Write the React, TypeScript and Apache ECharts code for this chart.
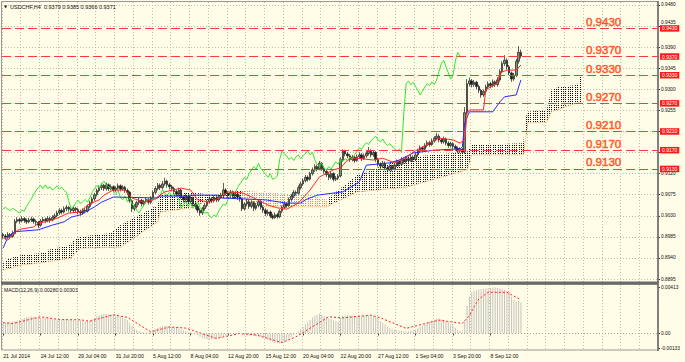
import React, { useEffect, useRef } from "react";
import * as echarts from "echarts";

const SYMBOL_TITLE = "USDCHF,H4  0.9379 0.9385 0.9366 0.9371";
const MACD_TITLE = "MACD(12,26,9) 0.00280 0.00303";
const X_TICK_LABELS = [
  "21 Jul 2014", "24 Jul 12:00", "29 Jul 04:00", "31 Jul 20:00", "5 Aug 12:00",
  "8 Aug 04:00", "12 Aug 20:00", "15 Aug 12:00", "20 Aug 04:00", "22 Aug 20:00",
  "27 Aug 12:00", "1 Sep 04:00", "3 Sep 20:00", "8 Sep 12:00",
];
const BARS_PER_LABEL = 16;
const BARS_PER_GRID = 8;
const SLOT_COUNT = 280;
const CHIKOU_SHIFT = 26;
const ANNOT_SLOT = 264;
const PRICE_TICKS = [0.8895, 0.894, 0.8985, 0.903, 0.9075, 0.912, 0.9165, 0.921, 0.9255, 0.93, 0.9345, 0.939, 0.9435, 0.948];
// labels hidden behind the level boxes in the reference are left out
const PRICE_TICK_LABELS = [0.8895, 0.894, 0.8985, 0.903, 0.9075, 0.912, 0.9255, 0.93, 0.9345, 0.939, 0.9435, 0.948];
const RAISED_TICK_LABEL = 0.9435;
const MACD_TICKS = [-0.00133, 0, 0.00413];
const LEVELS = [0.943, 0.937, 0.933, 0.927, 0.921, 0.917, 0.913];

const OPENS = [
  0.8990, 0.8987, 0.8984, 0.8990, 0.8986, 0.8992, 0.9018, 0.9022, 0.9019, 0.9024,
  0.9020, 0.9017, 0.9021, 0.9023, 0.9018, 0.9016, 0.9010, 0.9019, 0.9022, 0.9020,
  0.9024, 0.9021, 0.9026, 0.9030, 0.9036, 0.9041, 0.9038, 0.9045, 0.9048, 0.9044,
  0.9041, 0.9046, 0.9043, 0.9039, 0.9036, 0.9042, 0.9040, 0.9050, 0.9058, 0.9066,
  0.9075, 0.9084, 0.9090, 0.9095, 0.9088, 0.9096, 0.9088, 0.9092, 0.9085, 0.9089,
  0.9094, 0.9087, 0.9091, 0.9084, 0.9080, 0.9062, 0.9045, 0.9050, 0.9058, 0.9063,
  0.9056, 0.9060, 0.9065, 0.9059, 0.9068, 0.9080, 0.9088, 0.9095, 0.9090, 0.9098,
  0.9104, 0.9096, 0.9092, 0.9088, 0.9082, 0.9076, 0.9085, 0.9070, 0.9064, 0.9072,
  0.9060, 0.9068, 0.9055, 0.9050, 0.9042, 0.9036, 0.9045, 0.9052, 0.9060, 0.9066,
  0.9062, 0.9068, 0.9064, 0.9070, 0.9073, 0.9085, 0.9078, 0.9074, 0.9080, 0.9072,
  0.9076, 0.9070, 0.9066, 0.9045, 0.9055, 0.9060, 0.9050, 0.9058, 0.9046, 0.9052,
  0.9060, 0.9048, 0.9042, 0.9035, 0.9038, 0.9030, 0.9026, 0.9032, 0.9028, 0.9040,
  0.9048, 0.9055, 0.9052, 0.9065, 0.9072, 0.9080, 0.9078, 0.9090, 0.9098, 0.9105,
  0.9112, 0.9108, 0.9120, 0.9128, 0.9135, 0.9130, 0.9142, 0.9130, 0.9125, 0.9118,
  0.9112, 0.9120, 0.9108, 0.9110, 0.9115, 0.9150, 0.9168, 0.9162, 0.9158, 0.9150,
  0.9155, 0.9148, 0.9156, 0.9160, 0.9152, 0.9158, 0.9163, 0.9168, 0.9160, 0.9165,
  0.9150, 0.9140, 0.9136, 0.9142, 0.9132, 0.9128, 0.9135, 0.9130, 0.9138, 0.9145,
  0.9140, 0.9150, 0.9146, 0.9152, 0.9148, 0.9155, 0.9150, 0.9160, 0.9168, 0.9175,
  0.9172, 0.9180, 0.9186, 0.9182, 0.9190, 0.9195, 0.9200, 0.9192, 0.9188, 0.9194,
  0.9185, 0.9180, 0.9184, 0.9178, 0.9174, 0.9168, 0.9172, 0.9166, 0.9250, 0.9312,
  0.9318, 0.9310, 0.9315, 0.9306, 0.9298, 0.9288, 0.9296, 0.9305, 0.9312, 0.9308,
  0.9316, 0.9310, 0.9320, 0.9338, 0.9355, 0.9362, 0.9348, 0.9335, 0.9322, 0.9330,
  0.9360, 0.9379,
];
const CLOSES = [
  0.8987, 0.8984, 0.8990, 0.8986, 0.8992, 0.9018, 0.9022, 0.9019, 0.9024, 0.9020,
  0.9017, 0.9021, 0.9023, 0.9018, 0.9016, 0.9010, 0.9019, 0.9022, 0.9020, 0.9024,
  0.9021, 0.9026, 0.9030, 0.9036, 0.9041, 0.9038, 0.9045, 0.9048, 0.9044, 0.9041,
  0.9046, 0.9043, 0.9039, 0.9036, 0.9042, 0.9040, 0.9050, 0.9058, 0.9066, 0.9075,
  0.9084, 0.9090, 0.9095, 0.9088, 0.9096, 0.9088, 0.9092, 0.9085, 0.9089, 0.9094,
  0.9087, 0.9091, 0.9084, 0.9080, 0.9062, 0.9045, 0.9050, 0.9058, 0.9063, 0.9056,
  0.9060, 0.9065, 0.9059, 0.9068, 0.9080, 0.9088, 0.9095, 0.9090, 0.9098, 0.9104,
  0.9096, 0.9092, 0.9088, 0.9082, 0.9076, 0.9085, 0.9070, 0.9064, 0.9072, 0.9060,
  0.9068, 0.9055, 0.9050, 0.9042, 0.9036, 0.9045, 0.9052, 0.9060, 0.9066, 0.9062,
  0.9068, 0.9064, 0.9070, 0.9073, 0.9085, 0.9078, 0.9074, 0.9080, 0.9072, 0.9076,
  0.9070, 0.9066, 0.9045, 0.9055, 0.9060, 0.9050, 0.9058, 0.9046, 0.9052, 0.9060,
  0.9048, 0.9042, 0.9035, 0.9038, 0.9030, 0.9026, 0.9032, 0.9028, 0.9040, 0.9048,
  0.9055, 0.9052, 0.9065, 0.9072, 0.9080, 0.9078, 0.9090, 0.9098, 0.9105, 0.9112,
  0.9108, 0.9120, 0.9128, 0.9135, 0.9130, 0.9142, 0.9130, 0.9125, 0.9118, 0.9112,
  0.9120, 0.9108, 0.9110, 0.9115, 0.9150, 0.9168, 0.9162, 0.9158, 0.9150, 0.9155,
  0.9148, 0.9156, 0.9160, 0.9152, 0.9158, 0.9163, 0.9168, 0.9160, 0.9165, 0.9150,
  0.9140, 0.9136, 0.9142, 0.9132, 0.9128, 0.9135, 0.9130, 0.9138, 0.9145, 0.9140,
  0.9150, 0.9146, 0.9152, 0.9148, 0.9155, 0.9150, 0.9160, 0.9168, 0.9175, 0.9172,
  0.9180, 0.9186, 0.9182, 0.9190, 0.9195, 0.9200, 0.9192, 0.9188, 0.9194, 0.9185,
  0.9180, 0.9184, 0.9178, 0.9174, 0.9168, 0.9172, 0.9166, 0.9250, 0.9312, 0.9318,
  0.9310, 0.9315, 0.9306, 0.9298, 0.9288, 0.9296, 0.9305, 0.9312, 0.9308, 0.9316,
  0.9310, 0.9320, 0.9338, 0.9355, 0.9362, 0.9348, 0.9335, 0.9322, 0.9330, 0.9360,
  0.9379, 0.9371,
];
const LOWS = [
  0.8981, 0.8979, 0.8982, 0.8980, 0.8983, 0.8990, 0.9014, 0.9013, 0.9016, 0.9015,
  0.9012, 0.9014, 0.9017, 0.9013, 0.9010, 0.9003, 0.9007, 0.9015, 0.9014, 0.9016,
  0.9015, 0.9018, 0.9022, 0.9027, 0.9032, 0.9033, 0.9035, 0.9040, 0.9039, 0.9035,
  0.9037, 0.9038, 0.9033, 0.9030, 0.9032, 0.9035, 0.9037, 0.9046, 0.9054, 0.9062,
  0.9071, 0.9080, 0.9085, 0.9083, 0.9084, 0.9083, 0.9084, 0.9080, 0.9081, 0.9086,
  0.9082, 0.9083, 0.9079, 0.9074, 0.9058, 0.9038, 0.9040, 0.9046, 0.9053, 0.9050,
  0.9051, 0.9056, 0.9054, 0.9055, 0.9064, 0.9076, 0.9084, 0.9085, 0.9086, 0.9094,
  0.9090, 0.9086, 0.9082, 0.9076, 0.9070, 0.9072, 0.9066, 0.9058, 0.9060, 0.9055,
  0.9056, 0.9050, 0.9044, 0.9036, 0.9030, 0.9032, 0.9041, 0.9048, 0.9056, 0.9057,
  0.9058, 0.9059, 0.9060, 0.9066, 0.9069, 0.9073, 0.9068, 0.9070, 0.9067, 0.9068,
  0.9064, 0.9060, 0.9040, 0.9041, 0.9050, 0.9045, 0.9046, 0.9040, 0.9042, 0.9048,
  0.9043, 0.9036, 0.9029, 0.9030, 0.9025, 0.9022, 0.9023, 0.9024, 0.9025, 0.9036,
  0.9044, 0.9047, 0.9049, 0.9061, 0.9068, 0.9073, 0.9075, 0.9086, 0.9094, 0.9101,
  0.9103, 0.9105, 0.9116, 0.9124, 0.9125, 0.9127, 0.9126, 0.9120, 0.9113, 0.9106,
  0.9108, 0.9103, 0.9104, 0.9106, 0.9112, 0.9146, 0.9157, 0.9153, 0.9145, 0.9146,
  0.9143, 0.9145, 0.9152, 0.9147, 0.9149, 0.9154, 0.9159, 0.9155, 0.9156, 0.9145,
  0.9135, 0.9130, 0.9132, 0.9127, 0.9123, 0.9125, 0.9125, 0.9127, 0.9134, 0.9135,
  0.9137, 0.9141, 0.9142, 0.9143, 0.9145, 0.9145, 0.9147, 0.9156, 0.9164, 0.9167,
  0.9169, 0.9176, 0.9177, 0.9179, 0.9186, 0.9191, 0.9187, 0.9183, 0.9184, 0.9180,
  0.9175, 0.9176, 0.9173, 0.9169, 0.9163, 0.9164, 0.9162, 0.9162, 0.9245, 0.9306,
  0.9304, 0.9305, 0.9300, 0.9292, 0.9282, 0.9284, 0.9292, 0.9300, 0.9302, 0.9304,
  0.9305, 0.9306, 0.9316, 0.9334, 0.9350, 0.9342, 0.9330, 0.9316, 0.9318, 0.9326,
  0.9355, 0.9366,
];
const HIGHS = [
  0.8994, 0.8991, 0.8995, 0.8993, 0.8998, 0.9023, 0.9027, 0.9026, 0.9029, 0.9027,
  0.9024, 0.9026, 0.9028, 0.9026, 0.9022, 0.9019, 0.9023, 0.9027, 0.9026, 0.9029,
  0.9028, 0.9031, 0.9035, 0.9041, 0.9046, 0.9045, 0.9050, 0.9053, 0.9051, 0.9048,
  0.9050, 0.9049, 0.9047, 0.9043, 0.9046, 0.9047, 0.9054, 0.9062, 0.9070, 0.9079,
  0.9088, 0.9095, 0.9100, 0.9098, 0.9101, 0.9099, 0.9097, 0.9095, 0.9093, 0.9099,
  0.9097, 0.9095, 0.9094, 0.9088, 0.9083, 0.9065, 0.9055, 0.9062, 0.9068, 0.9066,
  0.9064, 0.9070, 0.9068, 0.9072, 0.9084, 0.9093, 0.9100, 0.9099, 0.9104, 0.9111,
  0.9107, 0.9100, 0.9096, 0.9092, 0.9086, 0.9090, 0.9088, 0.9074, 0.9077, 0.9075,
  0.9073, 0.9071, 0.9059, 0.9054, 0.9046, 0.9049, 0.9057, 0.9064, 0.9071, 0.9070,
  0.9073, 0.9072, 0.9075, 0.9079, 0.9100, 0.9089, 0.9082, 0.9085, 0.9084, 0.9081,
  0.9080, 0.9074, 0.9069, 0.9059, 0.9066, 0.9064, 0.9063, 0.9061, 0.9057, 0.9065,
  0.9063, 0.9052, 0.9046, 0.9043, 0.9041, 0.9034, 0.9037, 0.9036, 0.9044, 0.9052,
  0.9060, 0.9059, 0.9069, 0.9077, 0.9085, 0.9084, 0.9095, 0.9103, 0.9110, 0.9117,
  0.9116, 0.9124, 0.9133, 0.9140, 0.9139, 0.9147, 0.9145, 0.9134, 0.9129, 0.9122,
  0.9125, 0.9123, 0.9115, 0.9119, 0.9155, 0.9172, 0.9171, 0.9166, 0.9162, 0.9160,
  0.9158, 0.9161, 0.9165, 0.9164, 0.9163, 0.9168, 0.9177, 0.9172, 0.9170, 0.9168,
  0.9154, 0.9144, 0.9147, 0.9146, 0.9136, 0.9140, 0.9139, 0.9142, 0.9150, 0.9149,
  0.9155, 0.9154, 0.9157, 0.9156, 0.9160, 0.9159, 0.9165, 0.9173, 0.9180, 0.9179,
  0.9185, 0.9191, 0.9190, 0.9195, 0.9200, 0.9207, 0.9204, 0.9196, 0.9199, 0.9197,
  0.9189, 0.9188, 0.9187, 0.9182, 0.9178, 0.9176, 0.9175, 0.9262, 0.9322, 0.9325,
  0.9322, 0.9320, 0.9318, 0.9310, 0.9301, 0.9300, 0.9310, 0.9317, 0.9316, 0.9321,
  0.9319, 0.9326, 0.9343, 0.9360, 0.9373, 0.9366, 0.9352, 0.9338, 0.9335, 0.9365,
  0.9392, 0.9385,
];

// Ichimoku lines as [bar, price] vertices
const TENKAN = [
  [0, 0.8983], [2, 0.8978], [4, 0.8989], [6, 0.8999], [8, 0.9002], [13, 0.9006], [15, 0.9014],
  [21, 0.9021], [24, 0.9027], [28, 0.9036], [33, 0.9038], [36, 0.9053], [41, 0.9064], [43, 0.9074],
  [47, 0.9085], [52, 0.9085], [55, 0.9068], [60, 0.9059], [64, 0.9064], [69, 0.9081], [76, 0.9089],
  [80, 0.9085], [83, 0.9064], [88, 0.9059], [92, 0.9068], [96, 0.9081], [102, 0.9079], [107, 0.9068],
  [113, 0.9053], [117, 0.9047], [121, 0.9044], [126, 0.9057], [131, 0.9085], [135, 0.9113],
  [141, 0.9128], [144, 0.9132], [147, 0.9149], [151, 0.9153], [158, 0.9149], [162, 0.9153],
  [167, 0.9143], [172, 0.9153], [175, 0.9166], [182, 0.9185], [186, 0.9196], [192, 0.9192],
  [195, 0.9185], [197, 0.9192], [198, 0.9249], [199, 0.9256], [205, 0.9256], [206, 0.9299],
  [208, 0.9305], [211, 0.9314], [212, 0.9335], [215, 0.9341], [219, 0.9341], [221, 0.9352],
];
const KIJUN = [
  [0, 0.8961], [2, 0.8985], [5, 0.8996], [15, 0.9], [21, 0.901], [26, 0.9017], [29, 0.9027],
  [33, 0.9032], [39, 0.9049], [42, 0.9059], [47, 0.907], [66, 0.9068], [67, 0.9072], [79, 0.9072],
  [80, 0.9074], [92, 0.9074], [93, 0.9068], [112, 0.9064], [121, 0.9057], [127, 0.9057],
  [129, 0.9064], [134, 0.9074], [145, 0.9081], [152, 0.9102], [155, 0.9138], [165, 0.9143],
  [169, 0.9149], [175, 0.9164], [184, 0.917], [195, 0.9173], [196, 0.9177], [197, 0.9228],
  [199, 0.9252], [209, 0.9252], [212, 0.9273], [214, 0.9284], [219, 0.9288], [220, 0.9305],
  [221, 0.932],
];
const CLOUD_UPPER = [
  [0, 0.8931], [3, 0.894], [8, 0.8946], [18, 0.8951], [19, 0.8957], [29, 0.8968], [30, 0.8978],
  [33, 0.8985], [46, 0.8993], [50, 0.901], [66, 0.9053], [67, 0.9074], [80, 0.9081], [90, 0.9074],
  [102, 0.9085], [112, 0.9079], [131, 0.9074], [138, 0.9064], [151, 0.9117], [169, 0.9149],
  [172, 0.9155], [198, 0.9166], [200, 0.9181], [222, 0.9185], [223, 0.9241], [224, 0.9252],
  [232, 0.9256], [234, 0.9299], [237, 0.9305], [245, 0.9309], [247, 0.9337],
];
const CLOUD_LOWER = [
  [0, 0.8914], [8, 0.8925], [18, 0.8931], [29, 0.894], [33, 0.8961], [50, 0.8963], [66, 0.9017],
  [67, 0.9038], [80, 0.9047], [90, 0.9068], [102, 0.9068], [112, 0.9049], [138, 0.9049],
  [151, 0.9081], [172, 0.9091], [198, 0.9128], [200, 0.916], [222, 0.916], [224, 0.9228],
  [232, 0.923], [234, 0.9252], [245, 0.9271], [247, 0.9271],
];
const KUMO_DOWN_RANGE = [102, 138];

const MACD_MAIN = [
  0.00093, 0.00095, 0.00098, 0.001, 0.00104, 0.0011, 0.00116, 0.00122, 0.0013, 0.00138,
  0.00144, 0.0015, 0.00152, 0.0015, 0.00146, 0.00142, 0.0014, 0.00142, 0.0014, 0.00138,
  0.00134, 0.0013, 0.00126, 0.00124, 0.00126, 0.00122, 0.00124, 0.00126, 0.00122, 0.0012,
  0.00118, 0.00116, 0.0012, 0.00118, 0.00114, 0.0011, 0.00112, 0.00118, 0.00128, 0.0014,
  0.00152, 0.00162, 0.0017, 0.00174, 0.00176, 0.00172, 0.0017, 0.00168, 0.00162, 0.00158,
  0.0015, 0.00144, 0.00136, 0.0012, 0.00096, 0.00066, 0.00044, 0.0003, 0.00022, 0.00014,
  0.0001, 0.00008, 0.0001, 0.00014, 0.00026, 0.0004, 0.00052, 0.00058, 0.00062, 0.00068,
  0.0007, 0.00066, 0.0006, 0.00054, 0.00048, 0.00044, 0.00034, 0.00026, 0.00022, 0.00014,
  0.0001, 0.00002, -0.00006, -0.00014, -0.0003, -0.0004, -0.00048, -0.00052, -0.00054, -0.00056,
  -0.00052, -0.00048, -0.00042, -0.00036, -0.00026, -0.00018, -0.00012, -0.00006, -0.00002, 0,
  0.00002, -0.00002, -0.00016, -0.00018, -0.00016, -0.0002, -0.00018, -0.00024, -0.00024, -0.00022,
  -0.00028, -0.00036, -0.00046, -0.00054, -0.00066, -0.00076, -0.00084, -0.00086, -0.0009, -0.00082,
  -0.00072, -0.00062, -0.00048, -0.0003, -0.00014, 0, 0.00018, 0.00038, 0.0006, 0.00084,
  0.001, 0.00122, 0.00144, 0.0016, 0.00166, 0.00178, 0.0017, 0.00158, 0.00146, 0.00134,
  0.00128, 0.00116, 0.00108, 0.00104, 0.0014, 0.0016, 0.00164, 0.00166, 0.00162, 0.0016,
  0.00156, 0.00156, 0.00158, 0.00156, 0.00158, 0.0016, 0.00164, 0.0016, 0.00158, 0.00148,
  0.0013, 0.00112, 0.00098, 0.0008, 0.00062, 0.00048, 0.00038, 0.00034, 0.0003, 0.00024,
  0.00022, 0.0002, 0.00018, 0.0002, 0.00022, 0.00026, 0.00034, 0.00046, 0.0006, 0.0007,
  0.00082, 0.00096, 0.00106, 0.00116, 0.00124, 0.00132, 0.00134, 0.00128, 0.00122, 0.0011,
  0.00098, 0.00086, 0.00074, 0.00052, 0.00034, 0.00024, 0.00016, 0.0012, 0.0025, 0.0033,
  0.0037, 0.00384, 0.00392, 0.00396, 0.00398, 0.004, 0.00404, 0.00408, 0.0041, 0.00412,
  0.00413, 0.0041, 0.00404, 0.00398, 0.0039, 0.00382, 0.00372, 0.0033, 0.003, 0.00288,
  0.00292, 0.0028,
];
const MACD_SIGNAL = [
  [0, 0.00097], [4, 0.00089], [16, 0.0015], [24, 0.00125], [33, 0.00123], [37, 0.0011],
  [47, 0.00168], [53, 0.00145], [63, 0.00015], [71, 0.00058], [78, 0.00048], [91, -0.00045],
  [101, 0], [108, -0.00014], [119, -0.00082], [125, -0.0003], [139, 0.0015], [145, 0.0014],
  [157, 0.00165], [161, 0.0014], [172, 0.00046], [186, 0.0012], [196, 0.0009], [199, 0.0016],
  [201, 0.0024], [203, 0.0031], [207, 0.0037], [215, 0.0037], [221, 0.00303],
];

const FONT = "Liberation Sans, Arial, sans-serif";
const BG = "#fffce8";
const GRID_LINE = "#bdbdb0";
const FRAME = "#6a6a6a";
const LEVEL_TEXT = "#ff4a14";

export default function App() {
  const ref = useRef<HTMLDivElement>(null);

  useEffect(() => {
    document.body.style.margin = "0";
    if (!ref.current) return;
    const chart = echarts.init(ref.current, undefined, { renderer: "svg" });

    const slots = Array.from({ length: SLOT_COUNT }, (_, i) => String(i));
    const candles = OPENS.map((o, i) => [o, CLOSES[i], LOWS[i], HIGHS[i]]);
    const chikou = CLOSES.slice(CHIKOU_SHIFT).map((c, i) => [i, c]);
    const gridInterval = (i: number) => i % BARS_PER_GRID === 0;
    const labelInterval = (i: number) =>
      i % BARS_PER_LABEL === 0 && i / BARS_PER_LABEL < X_TICK_LABELS.length;

    const renderCloud = (params: any, api: any) => {
      const up = CLOUD_UPPER.map((p) => api.coord(p));
      const lo = CLOUD_LOWER.map((p) => api.coord(p));
      const poly = up.concat(lo.slice().reverse());
      const ys = poly.map((p: number[]) => p[1]);
      const top = Math.min(...ys) - 1;
      const bottom = Math.max(...ys) + 1;
      const first = CLOUD_UPPER[0][0];
      const last = CLOUD_UPPER[CLOUD_UPPER.length - 1][0];
      const children: any[] = [];
      for (let i = first; i <= last; i++) {
        const x = Math.round(api.coord([i, PRICE_TICKS[0]])[0]) + 0.5;
        const down = i >= KUMO_DOWN_RANGE[0] && i <= KUMO_DOWN_RANGE[1];
        children.push({
          type: "line",
          shape: { x1: x, y1: top, x2: x, y2: bottom },
          style: { stroke: down ? "#ec8a2a" : "#0a0a0a", lineWidth: 1, lineDash: [1, 1] },
          silent: true,
        });
      }
      return {
        type: "group",
        children,
        clipPath: { type: "polygon", shape: { points: poly } },
      };
    };

    const catAxisBase = {
      type: "category",
      data: slots,
      boundaryGap: true,
      axisLine: { show: false },
      splitLine: { show: true, interval: gridInterval, lineStyle: { color: GRID_LINE, type: [1, 2], width: 1 } },
    };

    chart.setOption({
      animation: false,
      backgroundColor: BG,
      grid: [
        { left: 2, right: 27, top: 2, height: 280 },
        { left: 2, right: 27, top: 285, height: 65 },
      ],
      xAxis: [
        { ...catAxisBase, gridIndex: 0, axisTick: { show: false }, axisLabel: { show: false } },
        {
          ...catAxisBase,
          gridIndex: 1,
          axisTick: { show: true, alignWithLabel: true, interval: labelInterval, length: 2, lineStyle: { color: "#333" } },
          axisLabel: {
            show: true,
            interval: labelInterval,
            align: "left",
            margin: 3,
            fontSize: 5.2,
            fontFamily: FONT,
            color: "#111",
            formatter: (v: string) => X_TICK_LABELS[Number(v) / BARS_PER_LABEL] ?? "",
          },
        },
      ],
      yAxis: [
        {
          type: "value",
          gridIndex: 0,
          position: "right",
          min: 0.88886,
          max: 0.94864,
          axisLine: { show: false },
          axisTick: { show: true, customValues: PRICE_TICKS, length: 2, lineStyle: { color: "#333" } },
          axisLabel: {
            customValues: PRICE_TICK_LABELS,
            formatter: (v: number) =>
              Math.abs(v - RAISED_TICK_LABEL) < 1e-9 ? `{up|${v.toFixed(4)}}` : v.toFixed(4),
            fontSize: 4.8,
            fontFamily: FONT,
            color: "#111",
            margin: 3,
            rich: { up: { fontSize: 4.8, fontFamily: FONT, color: "#111", padding: [0, 0, 8, 0] } },
          },
          splitLine: { show: true, lineStyle: { color: GRID_LINE, type: [1, 2], width: 1 } },
        },
        {
          type: "value",
          gridIndex: 1,
          position: "right",
          min: -0.00149,
          max: 0.00436,
          axisLine: { show: false },
          axisTick: { show: true, customValues: MACD_TICKS, length: 2, lineStyle: { color: "#333" } },
          axisLabel: {
            customValues: MACD_TICKS,
            formatter: (v: number) => (v === 0 ? "0.00" : v.toFixed(5)),
            fontSize: 4.8,
            fontFamily: FONT,
            color: "#111",
            margin: 3,
          },
          splitLine: { show: false },
        },
      ],
      series: [
        {
          type: "custom",
          name: "Kumo",
          xAxisIndex: 0,
          yAxisIndex: 0,
          data: [[0, CLOUD_UPPER[0][1]]],
          renderItem: renderCloud,
          silent: true,
          z: 1,
        },
        {
          type: "line",
          name: "Senkou B",
          xAxisIndex: 0,
          yAxisIndex: 0,
          data: CLOUD_LOWER,
          showSymbol: false,
          lineStyle: { color: "#f4a460", width: 1, type: [1, 1] },
          z: 1,
          silent: true,
        },
        {
          type: "line",
          name: "Levels",
          xAxisIndex: 0,
          yAxisIndex: 0,
          data: [],
          z: 2,
          silent: true,
          markLine: {
            symbol: "none",
            silent: true,
            animation: false,
            precision: 4,
            lineStyle: { color: "#ff3a3a", width: 1, type: [9, 4] },
            label: {
              show: true,
              position: "end",
              distance: 2,
              formatter: (p: any) => Number(p.value).toFixed(4),
              color: "#ffffff",
              backgroundColor: "#ff1a1a",
              fontSize: 5,
              fontFamily: FONT,
              padding: [1, 2, 0.5, 2],
            },
            data: LEVELS.map((v) => ({ yAxis: v })),
          },
        },
        {
          type: "candlestick",
          name: "USDCHF",
          xAxisIndex: 0,
          yAxisIndex: 0,
          data: candles,
          barWidth: 2,
          itemStyle: {
            color: "#8a8f70",
            color0: "#1c1c1c",
            borderColor: "#1c1c1c",
            borderColor0: "#1c1c1c",
            borderWidth: 0.7,
          },
          z: 2,
        },
        {
          type: "line",
          name: "Chikou",
          xAxisIndex: 0,
          yAxisIndex: 0,
          data: chikou,
          showSymbol: false,
          lineStyle: { color: "#2ee82e", width: 1 },
          z: 3,
          silent: true,
        },
        {
          type: "line",
          name: "Kijun",
          xAxisIndex: 0,
          yAxisIndex: 0,
          data: KIJUN,
          showSymbol: false,
          lineStyle: { color: "#2a2aff", width: 1 },
          z: 3,
          silent: true,
        },
        {
          type: "line",
          name: "Tenkan",
          xAxisIndex: 0,
          yAxisIndex: 0,
          data: TENKAN,
          showSymbol: false,
          lineStyle: { color: "#ff2a2a", width: 1 },
          z: 3,
          silent: true,
        },
        {
          type: "scatter",
          name: "Level texts",
          xAxisIndex: 0,
          yAxisIndex: 0,
          data: LEVELS.map((v) => [ANNOT_SLOT, v]),
          symbolSize: 1,
          itemStyle: { color: "rgba(0,0,0,0)" },
          silent: true,
          z: 4,
          label: {
            show: true,
            position: [0, 0],
            align: "right",
            verticalAlign: "bottom",
            formatter: (p: any) => p.value[1].toFixed(4),
            fontSize: 11.5,
            fontFamily: FONT,
            color: LEVEL_TEXT,
            textBorderColor: LEVEL_TEXT,
            textBorderWidth: 0.6,
          },
        },
        {
          type: "bar",
          name: "MACD",
          xAxisIndex: 1,
          yAxisIndex: 1,
          data: MACD_MAIN,
          barWidth: 1,
          itemStyle: { color: "#c4c4bc" },
          silent: true,
          markLine: {
            symbol: "none",
            silent: true,
            animation: false,
            precision: 5,
            label: { show: false },
            lineStyle: { color: "#a8a8a0", width: 1, type: [1, 2] },
            data: [{ yAxis: 0 }],
          },
        },
        {
          type: "line",
          name: "Signal",
          xAxisIndex: 1,
          yAxisIndex: 1,
          data: MACD_SIGNAL,
          showSymbol: false,
          lineStyle: { color: "#ff2020", width: 1, type: [2, 2] },
          silent: true,
        },
      ],
      graphic: [
        {
          type: "rect",
          silent: true,
          z: 100,
          shape: { x: 1.5, y: 1.5, width: 656.5, height: 281 },
          style: { fill: "none", stroke: "#9a9a9a", lineWidth: 1 },
        },
        {
          type: "rect",
          silent: true,
          z: 100,
          shape: { x: 1.5, y: 284.5, width: 656.5, height: 65.5 },
          style: { fill: "none", stroke: "#9a9a9a", lineWidth: 1 },
        },
        {
          type: "rect",
          silent: true,
          z: 101,
          shape: { x: 1, y: 281.5, width: 657.5, height: 3 },
          style: { fill: FRAME },
        },
        {
          type: "line",
          silent: true,
          z: 101,
          shape: { x1: 658, y1: 1, x2: 658, y2: 351 },
          style: { stroke: FRAME, lineWidth: 1.5 },
        },
        {
          type: "text",
          silent: true,
          z: 102,
          x: 4,
          y: 6.5,
          style: { text: "▼", fontSize: 4, fill: "#111", verticalAlign: "middle", fontFamily: "DejaVu Sans" },
        },
        {
          type: "text",
          silent: true,
          z: 102,
          x: 10,
          y: 6.5,
          style: { text: SYMBOL_TITLE, fontSize: 5.5, fill: "#111", verticalAlign: "middle", fontFamily: FONT },
        },
        {
          type: "text",
          silent: true,
          z: 102,
          x: 4,
          y: 289.5,
          style: { text: MACD_TITLE, fontSize: 5, fill: "#111", verticalAlign: "middle", fontFamily: FONT },
        },
      ],
    });

    return () => chart.dispose();
  }, []);

  return <div ref={ref} style={{ width: 685, height: 362 }} />;
}
